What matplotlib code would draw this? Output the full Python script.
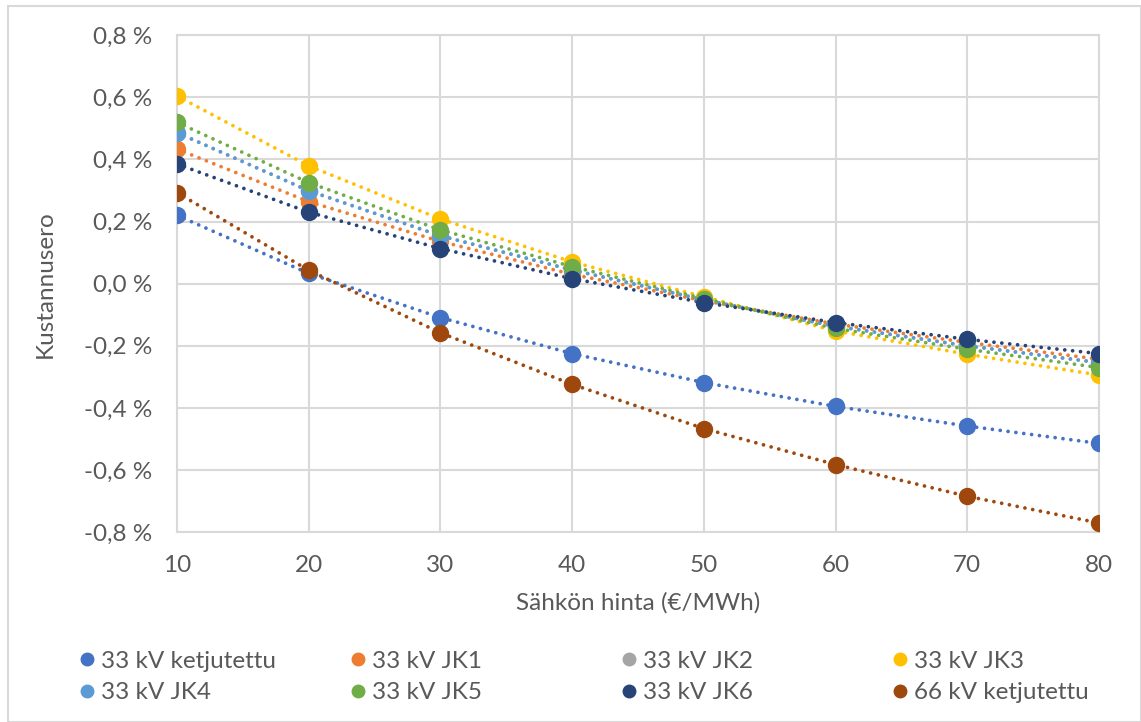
import matplotlib
matplotlib.use("Agg")
import matplotlib.pyplot as plt
from matplotlib.lines import Line2D
from matplotlib.patches import Rectangle
from matplotlib.ticker import FuncFormatter, MultipleLocator

# electricity price (€/MWh)
price = [10, 20, 30, 40, 50, 60, 70, 80]

# cost difference (%) per cable option
ketjutettu_33 = [0.220, 0.033, -0.109, -0.225, -0.318, -0.395, -0.458, -0.514]
jk1 = [0.433, 0.264, 0.136, 0.030, -0.055, -0.130, -0.189, -0.243]
jk2 = [0.486, 0.299, 0.154, 0.044, -0.052, -0.137, -0.200, -0.254]
jk3 = [0.604, 0.379, 0.208, 0.070, -0.042, -0.152, -0.227, -0.294]
jk4 = [0.486, 0.299, 0.154, 0.044, -0.052, -0.137, -0.200, -0.254]
jk5 = [0.519, 0.325, 0.173, 0.055, -0.048, -0.144, -0.211, -0.270]
jk6 = [0.385, 0.230, 0.113, 0.016, -0.061, -0.125, -0.179, -0.225]
ketjutettu_66 = [0.293, 0.043, -0.158, -0.324, -0.466, -0.582, -0.684, -0.770]

labels = ["33 kV ketjutettu", "33 kV JK1", "33 kV JK2", "33 kV JK3",
          "33 kV JK4", "33 kV JK5", "33 kV JK6", "66 kV ketjutettu"]
series = [ketjutettu_33, jk1, jk2, jk3, jk4, jk5, jk6, ketjutettu_66]
colors = ["#4472C4", "#ED7D31", "#A5A5A5", "#FFC000",
          "#5B9BD5", "#70AD47", "#264478", "#9E480E"]

TEXT = "#595959"
GRID = "#D9D9D9"
plt.rcParams["font.family"] = ["Lato", "DejaVu Sans"]

fig = plt.figure(figsize=(11.41, 7.22), dpi=100)
ax = fig.add_axes([0.1551, 0.2627, 0.8081, 0.6888])

# dotted connecting lines first, markers on top
for vals, col in zip(series, colors):
    ax.plot(price, vals, linestyle=(0, (0.01, 2.1)), linewidth=2.7,
            dash_capstyle="round", color=col, zorder=2)
for vals, col in zip(series, colors):
    ax.plot(price, vals, linestyle="none", marker="o", markersize=11.5,
            color=col, zorder=3)

ax.set_xlim(10, 80)
ax.set_ylim(-0.8, 0.8)
ax.xaxis.set_major_locator(MultipleLocator(10))
ax.yaxis.set_major_locator(MultipleLocator(0.2))
ax.yaxis.set_major_formatter(
    FuncFormatter(lambda v, _: f"{v:.1f} %".replace(".", ",").replace("-0,0", "0,0")))
ax.grid(True, color=GRID, linewidth=1.5, zorder=0)
ax.set_axisbelow(True)
for sp in ax.spines.values():
    sp.set_color(GRID)
    sp.set_linewidth(1.5)
ax.tick_params(length=0, labelsize=17.5, colors=TEXT)
ax.tick_params(axis="y", pad=18)
ax.tick_params(axis="x", pad=16)

ax.set_xlabel("Sähkön hinta (€/MWh)", fontsize=17.5, color=TEXT, labelpad=12)
ax.set_ylabel("Kustannusero", fontsize=17.5, color=TEXT, labelpad=20)

# legend: four columns, two rows
handles = [Line2D([], [], linestyle="none", marker="o", markersize=9, color=c)
           for c in colors]
col_x = [80, 351, 622, 893]
for i, x0 in enumerate(col_x):
    idx = [i, i + 4]
    fig.legend([handles[j] for j in idx], [labels[j] for j in idx],
               loc="center left", bbox_to_anchor=(x0 / 1141, 1 - 677 / 722),
               frameon=False, fontsize=17.5, labelcolor=TEXT,
               handlelength=0.6, handletextpad=0.25, labelspacing=0.42,
               borderpad=0, borderaxespad=0)

fig.add_artist(Rectangle((8 / 1141, 0), 1 - 8 / 1141, 1 - 6 / 722,
                         transform=fig.transFigure, fill=False,
                         edgecolor=GRID, linewidth=1.5))

fig.savefig("out.png", dpi=100)
